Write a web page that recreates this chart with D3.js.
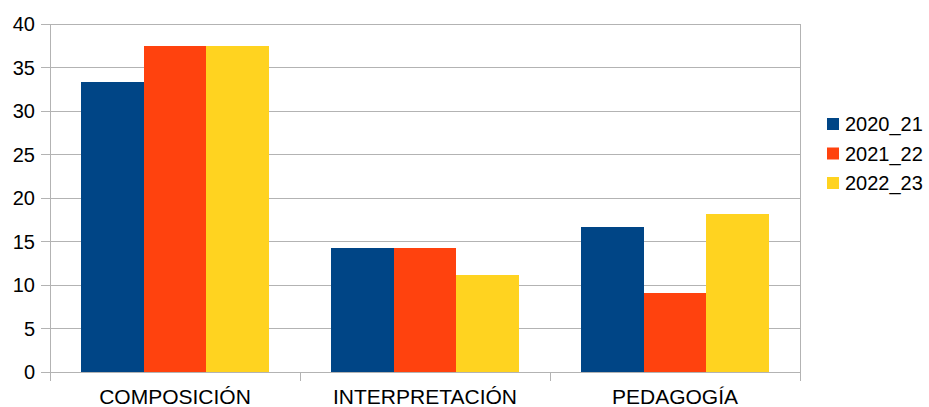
<!DOCTYPE html>
<html><head><meta charset="utf-8">
<script src="https://cdn.jsdelivr.net/npm/d3@7"></script>
<style>body{margin:0;background:#fff}svg{display:block;font-family:"Liberation Sans",Arial,sans-serif}</style>
</head><body>
<svg id="c" width="929" height="407"></svg>
<script>
const categories = ["COMPOSICIÓN", "INTERPRETACIÓN", "PEDAGOGÍA"];
const seriesNames = ["2020_21", "2021_22", "2022_23"];
const s2020_21 = [33.3, 14.3, 16.7];
const s2021_22 = [37.5, 14.3, 9.1];
const s2022_23 = [37.5, 11.1, 18.2];
const yTicks = [0, 5, 10, 15, 20, 25, 30, 35, 40];
const colors = ["#004586", "#ff420e", "#ffd320"];

const series = [s2020_21, s2021_22, s2022_23];
const svg = d3.select("#c");
const L = 50, R = 800, T = 24, B = 372;
const x = d3.scaleBand().domain(categories).range([L, R]).paddingInner(0).paddingOuter(0);
const y = d3.scaleLinear().domain([0, 40]).range([B, T]);
const xs = d3.scaleBand().domain(d3.range(series.length)).range([0, x.bandwidth()]).paddingInner(0).paddingOuter(0.5);
const grid = "#b3b3b3";

svg.append("g").selectAll("line").data(yTicks).join("line")
  .attr("x1", L - 9).attr("x2", R).attr("y1", d => y(d)).attr("y2", d => y(d))
  .attr("stroke", grid).attr("stroke-width", 1).attr("shape-rendering", "crispEdges");
svg.append("line").attr("x1", L).attr("x2", L).attr("y1", T).attr("y2", B + 9).attr("stroke", grid).attr("shape-rendering", "crispEdges");
svg.append("line").attr("x1", R).attr("x2", R).attr("y1", T).attr("y2", B + 9).attr("stroke", grid).attr("shape-rendering", "crispEdges");
svg.append("g").selectAll("line").data(categories.slice(1)).join("line")
  .attr("x1", d => x(d)).attr("x2", d => x(d)).attr("y1", B).attr("y2", B + 9)
  .attr("stroke", grid).attr("shape-rendering", "crispEdges");

categories.forEach((c, ci) => {
  series.forEach((s, si) => {
    svg.append("rect")
      .attr("x", x(c) + xs(si)).attr("width", xs.bandwidth())
      .attr("y", y(s[ci])).attr("height", y(0) - y(s[ci]))
      .attr("fill", colors[si]).attr("shape-rendering", "crispEdges");
  });
});

svg.append("g").selectAll("text").data(yTicks).join("text")
  .attr("x", 35).attr("y", d => y(d)).attr("dy", "0.35em")
  .attr("text-anchor", "end").attr("font-size", 20).attr("fill", "#000").text(d => d);
svg.append("g").selectAll("text").data(categories).join("text")
  .attr("x", d => x(d) + x.bandwidth() / 2).attr("y", 404)
  .attr("text-anchor", "middle").attr("font-size", 21).attr("fill", "#000").text(d => d);

const lg = svg.append("g");
seriesNames.forEach((n, i) => {
  const yy = 124 + i * 29.5;
  lg.append("rect").attr("x", 827).attr("y", yy - 6).attr("width", 12).attr("height", 12).attr("fill", colors[i]);
  lg.append("text").attr("x", 845).attr("y", yy).attr("dy", "0.35em").attr("font-size", 20).attr("fill", "#000").text(n);
});
</script>
</body></html>
